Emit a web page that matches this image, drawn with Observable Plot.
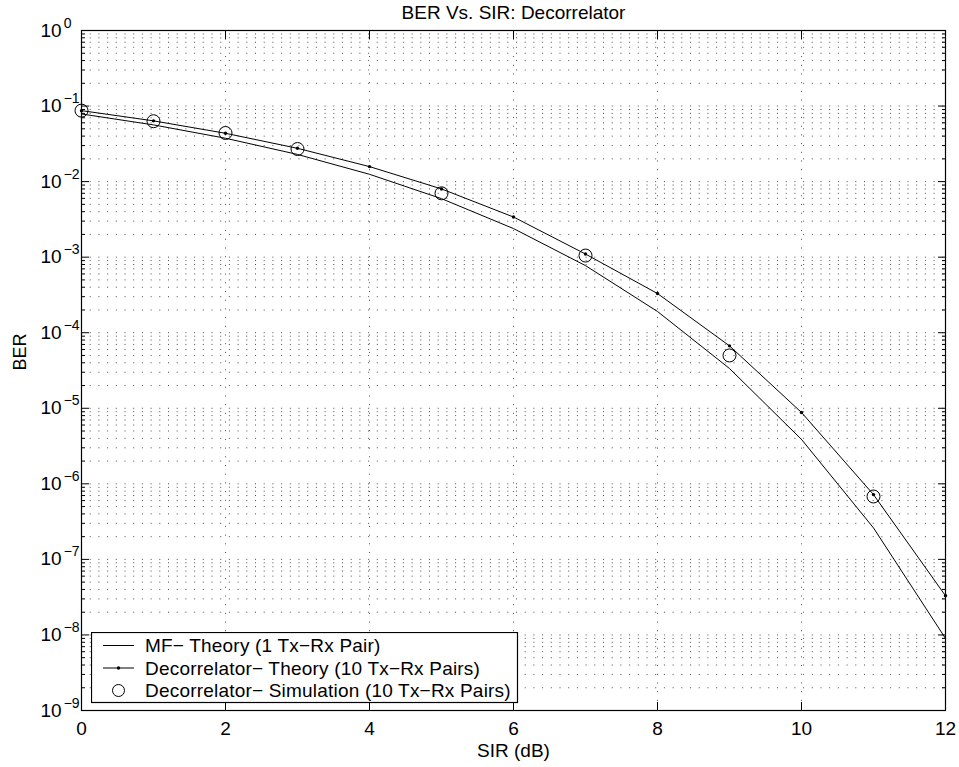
<!DOCTYPE html>
<html><head><meta charset="utf-8">
<script src="https://cdn.jsdelivr.net/npm/d3@7"></script>
<script src="https://cdn.jsdelivr.net/npm/@observablehq/plot@0.6"></script>
<style>
body{margin:0;background:#fff;font-family:"Liberation Sans",Arial,Helvetica,sans-serif}
#wrap{position:relative;width:959px;height:767px}
#legend{position:absolute;left:91px;top:632px;line-height:0}
</style></head><body><div id="wrap"></div>
<script>
const title = "BER Vs. SIR: Decorrelator";
const xLabel = "SIR (dB)";
const yLabel = "BER";
const sir = [0,1,2,3,4,5,6,7,8,9,10,11,12];
const mfTheory = [0.0786,0.0563,0.0375,0.0229,0.0125,0.00595,0.00239,0.000773,0.000191,3.36e-5,3.87e-6,2.61e-7,9.0e-9];
const decTheory = [0.087,0.0637,0.0436,0.0276,0.0158,0.0080,0.0034,0.00110,0.00033,6.7e-5,8.8e-6,7.2e-7,3.3e-8];
const simSir = [0,1,2,3,5,7,9,11];
const decSim = [0.087,0.063,0.044,0.027,0.0070,0.00105,5.0e-5,6.8e-7];
const xTicks = [0,2,4,6,8,10,12];
const xGrid = [2,4,6,8,10];
const yExps = [-9,-8,-7,-6,-5,-4,-3,-2,-1,0];
const legendLabels = ["MF\u2212 Theory (1 Tx\u2212Rx Pair)","Decorrelator\u2212 Theory (10 Tx\u2212Rx Pairs)","Decorrelator\u2212 Simulation (10 Tx\u2212Rx Pairs)"];

const decades = yExps.map(e => Math.pow(10, e));
const minor = [];
for (const e of yExps.slice(0, -1)) for (let m = 2; m <= 9; m++) minor.push(m * Math.pow(10, e));
const allY = decades.concat(minor);

const mf = sir.map((x, i) => ({x, y: mfTheory[i]}));
const dt = sir.map((x, i) => ({x, y: decTheory[i]}));
const ds = simSir.map((x, i) => ({x, y: decSim[i]}));

const FONT = "'Liberation Sans', Arial, Helvetica, sans-serif";
const grid = {stroke: "#000", strokeOpacity: 0.7, strokeDasharray: "1,7.7", strokeWidth: 1};
const tk = {tickFormat: () => "", stroke: "#000", strokeOpacity: 1, label: null};

const chart = Plot.plot({
  width: 959, height: 767,
  marginLeft: 81, marginRight: 14, marginTop: 30, marginBottom: 57,
  style: {fontFamily: FONT, fontSize: "19px", color: "#000", background: "#fff"},
  x: {domain: [0, 12], axis: null},
  y: {type: "log", domain: [1e-9, 1], axis: null},
  marks: [
    Plot.gridY(allY, grid),
    Plot.gridX(xGrid, grid),
    Plot.axisX(xTicks, {anchor: "bottom", tickSize: 8, insetBottom: 8, ...tk}),
    Plot.axisX(xTicks, {anchor: "top", tickSize: 8, insetTop: 8, ...tk}),
    Plot.axisY(decades, {anchor: "left", tickSize: 8, insetLeft: 8, ...tk}),
    Plot.axisY(decades, {anchor: "right", tickSize: 8, insetRight: 8, ...tk}),
    Plot.axisY(minor, {anchor: "left", tickSize: 4, insetLeft: 4, ...tk}),
    Plot.axisY(minor, {anchor: "right", tickSize: 4, insetRight: 4, ...tk}),
    Plot.axisX(xTicks, {anchor: "bottom", tickSize: 0, tickPadding: 11, tickFormat: d => String(d), fontSize: 19, fill: "#000", label: null}),
    Plot.axisY(decades, {anchor: "left", tickSize: 0, tickPadding: 41, textAnchor: "start", tickFormat: d => "10^" + Math.round(Math.log10(d)), fontSize: 19, fill: "#000", label: null}),
    Plot.frame({stroke: "#000", strokeWidth: 1.2}),
    Plot.line(mf, {x: "x", y: "y", stroke: "#000", strokeWidth: 1}),
    Plot.line(dt, {x: "x", y: "y", stroke: "#000", strokeWidth: 1}),
    Plot.dot(dt, {x: "x", y: "y", r: 1.7, fill: "#000"}),
    Plot.dot(ds, {x: "x", y: "y", r: 6.5, stroke: "#000", strokeWidth: 1, fill: "none"}),
    Plot.text([title], {frameAnchor: "top", lineAnchor: "middle", dy: -18, fontSize: 19, fill: "#000"}),
    Plot.text([xLabel], {frameAnchor: "bottom", lineAnchor: "middle", dy: 40, fontSize: 19, fill: "#000"}),
    Plot.text([yLabel], {frameAnchor: "left", dx: -61, rotate: -90, fontSize: 18, fill: "#000"})
  ]
});
document.getElementById("wrap").appendChild(chart);

// superscript exponents on y tick labels
d3.select(chart).selectAll('[aria-label="y-axis tick label"] text').each(function() {
  const t = d3.select(this);
  const s = t.text();
  if (!s.includes("^")) return;
  const [b, e] = s.split("^");
  t.text(null);
  t.append("tspan").text(b);
  t.append("tspan").attr("dx", "2").attr("dy", "-9").attr("font-size", "14px").text(e.replace("-", "\u2212"));
});

// legend
const lg = d3.select("#wrap").append("div").attr("id", "legend")
  .append("svg").attr("width", 428).attr("height", 72)
  .style("font-family", FONT).style("font-size", "19px");
lg.append("rect").attr("x", 0.5).attr("y", 0.5).attr("width", 426).attr("height", 70).attr("fill", "#fff").attr("stroke", "#000").attr("stroke-width", 1.2);
const rows = [13.5, 36, 58.5];
legendLabels.forEach((lab, i) => {
  const y = rows[i];
  if (i < 2) lg.append("line").attr("x1", 12).attr("x2", 43).attr("y1", y).attr("y2", y).attr("stroke", "#000");
  if (i === 1) lg.append("circle").attr("cx", 27.5).attr("cy", y).attr("r", 1.7).attr("fill", "#000");
  if (i === 2) lg.append("circle").attr("cx", 27.5).attr("cy", y).attr("r", 6).attr("fill", "none").attr("stroke", "#000");
  lg.append("text").attr("x", 54).attr("y", y).attr("dy", "0.36em").attr("fill", "#000").style("letter-spacing", "0.2px").text(lab);
});
</script>
</body></html>
